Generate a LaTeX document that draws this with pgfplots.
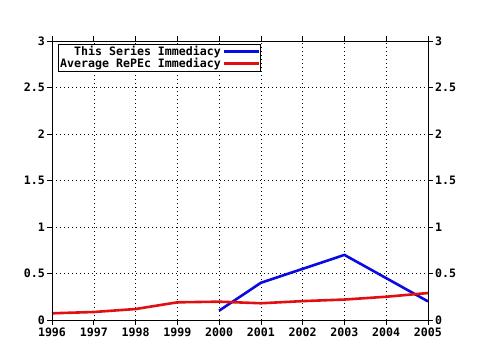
\documentclass[border=0pt]{standalone}
\usepackage{pgfplots}
\pgfplotsset{compat=1.18}
\usepackage{fontspec}
\setmainfont{DejaVu Sans Mono}
\definecolor{gblue}{RGB}{10,10,225}
\definecolor{gred}{RGB}{225,15,15}
\begin{document}
\begin{tikzpicture}[x=1pt,y=1pt]
\useasboundingbox (-52,-30) rectangle (428,320);
\pgfplotsset{
  common/.style={
    at={(0,0)}, anchor=south west, scale only axis,
    width=376pt, height=279pt,
    xmin=1996, xmax=2005, ymin=0, ymax=3,
    xtick={1996,1997,...,2005}, ytick={0,0.5,...,3},
    tick align=outside,
    major tick length=5pt, minor tick length=3pt,
    axis line style={black, line width=0.9pt},
    tick style={black, line width=0.7pt},
    minor tick style={black, line width=0.6pt},
    ticklabel style={font=\fontsize{11.6}{13}\selectfont\bfseries},
    /pgf/number format/assume math mode=true,
    /pgf/number format/1000 sep={},
    yticklabel style={inner sep=2pt},
    xticklabel style={inner sep=2pt, yshift=-1pt},
  }
}
\begin{axis}[common,
  minor x tick num=4,
  grid=major,
  major grid style={black, line width=0.5pt, dash pattern=on 1pt off 3pt},
  yticklabel pos=left,
  legend plot pos=right,
  legend cell align=right,
  legend image code/.code={\draw[#1] (0pt,0pt) -- (35pt,0pt);},
  legend style={at={(rel axis cs:0.016,0.989)}, anchor=north west,
    draw=black, inner xsep=0pt, inner ysep=0pt,
    font=\fontsize{11.6}{12}\selectfont\bfseries,
    row sep=-3pt,
    nodes={inner xsep=2pt, inner ysep=2pt}},
]
\addplot[gblue, line width=2.6pt] coordinates {
(2000,0.10) (2001,0.40) (2002,0.55) (2003,0.70) (2004,0.45) (2005,0.20)};
\addlegendentry{This Series Immediacy}
\addplot[gred, line width=2.6pt] coordinates {
(1996,0.072) (1997,0.086) (1998,0.118) (1999,0.19) (2000,0.197)
(2001,0.18) (2002,0.203) (2003,0.22) (2004,0.25) (2005,0.29)};
\addlegendentry{Average RePEc Immediacy}
\end{axis}
\begin{axis}[common,
  yticklabel pos=right,
  xticklabels={},
  xtick=\empty,
]
\end{axis}
\end{tikzpicture}
\end{document}
